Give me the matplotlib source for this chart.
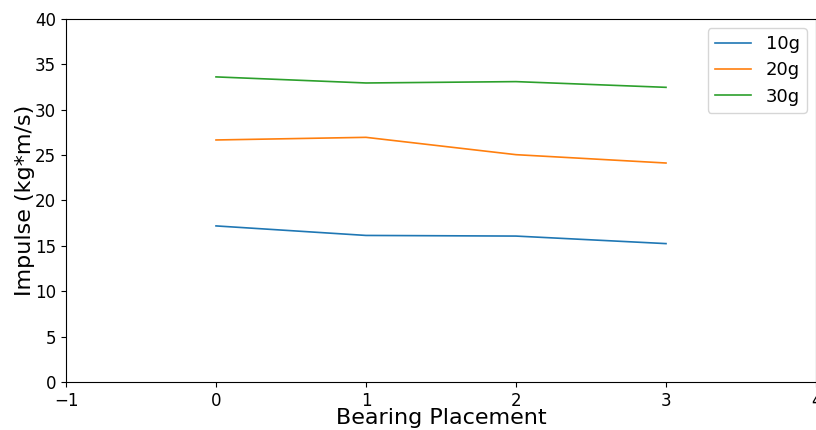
import matplotlib
matplotlib.use("Agg")
import matplotlib.pyplot as plt

placements = [0, 1, 2, 3]
impulse_10g = [17.2, 16.15, 16.08, 15.25]
impulse_20g = [26.67, 26.96, 25.05, 24.13]
impulse_30g = [33.62, 32.95, 33.1, 32.47]
labels = ["10g", "20g", "30g"]

fig = plt.figure(figsize=(8.16, 4.30), dpi=100)
ax = fig.add_axes([66 / 816, 48 / 430, 750 / 816, 363 / 430])

for series, lab in zip([impulse_10g, impulse_20g, impulse_30g], labels):
    ax.plot(placements, series, label=lab, linewidth=1.2)

ax.set_xlim(-1, 4)
ax.set_ylim(0, 40)
ax.set_xlabel("Bearing Placement", fontsize=16, labelpad=-1)
ax.set_ylabel("Impulse (kg*m/s)", fontsize=16, labelpad=0)
ax.tick_params(labelsize=12)
ax.legend(fontsize=13, loc="upper right", labelspacing=0.45)

fig.savefig("out.png", dpi=100)
